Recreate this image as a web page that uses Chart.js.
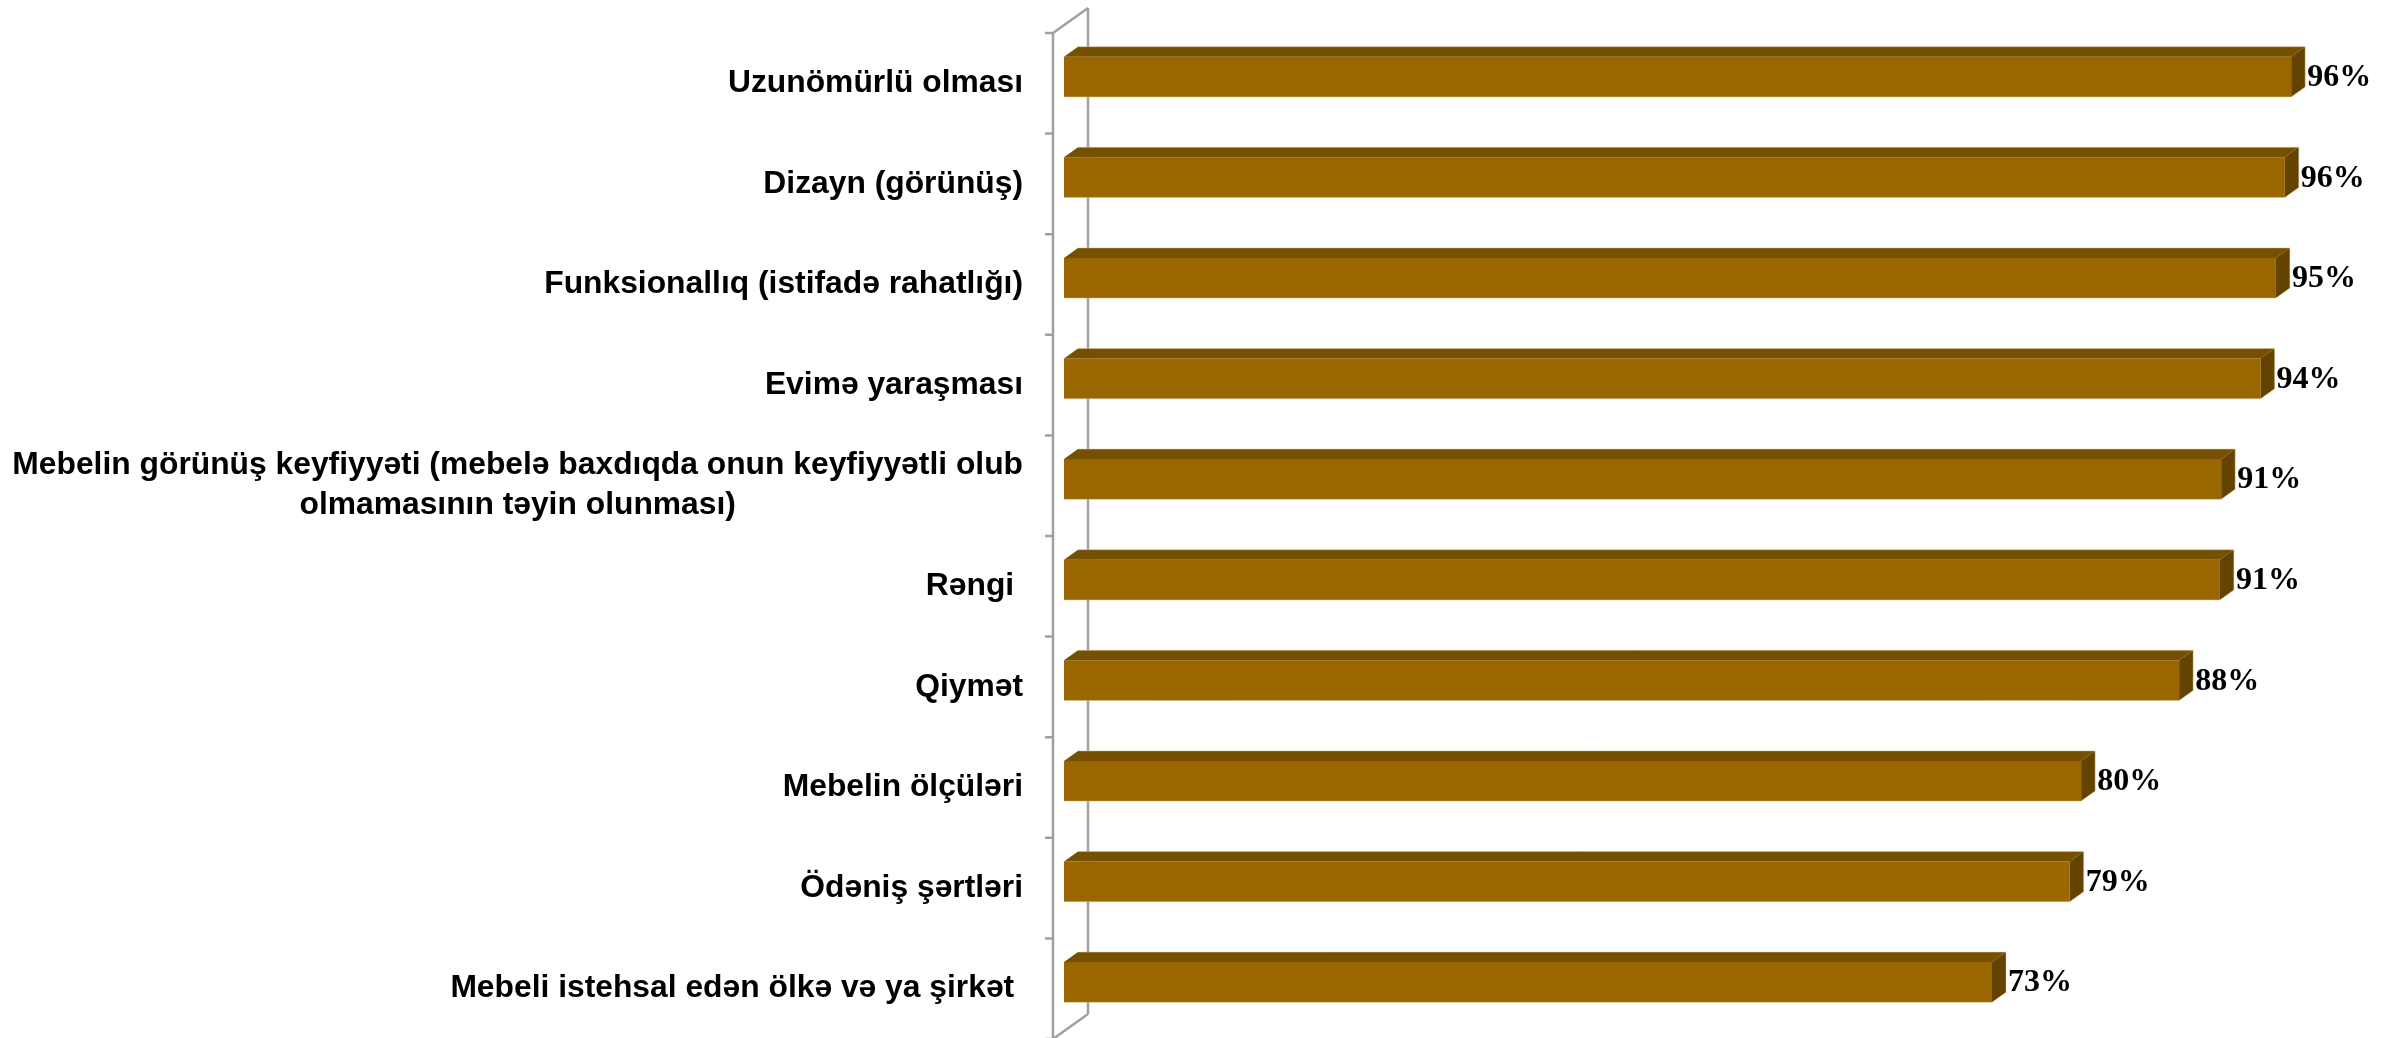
<!DOCTYPE html>
<html>
<head>
<meta charset="utf-8">
<script src="https://cdn.jsdelivr.net/npm/chart.js@4.4.0/dist/chart.umd.min.js"></script>
<style>
  html, body { margin: 0; padding: 0; background: #fff; overflow: hidden; }
  canvas { display: block; }
</style>
</head>
<body>
<canvas id="chart" width="2395" height="1038"></canvas>
<script>
// data
const categories = [
  'Uzunömürlü olması',
  'Dizayn (görünüş)',
  'Funksionallıq (istifadə rahatlığı)',
  'Evimə yaraşması',
  ['Mebelin görünüş keyfiyyəti (mebelə baxdıqda onun keyfiyyətli olub', 'olmamasının təyin olunması)'],
  'Rəngi ',
  'Qiymət',
  'Mebelin ölçüləri',
  'Ödəniş şərtləri',
  'Mebeli istehsal edən ölkə və ya şirkət '
];
const values = [96.4, 95.9, 95.2, 94.0, 90.9, 90.8, 87.6, 79.9, 79.0, 72.9];
const valueLabels = ['96%', '96%', '95%', '94%', '91%', '91%', '88%', '80%', '79%', '73%'];
const axisMin = 0;
const axisMax = 100;

// colours
const frontColor = '#996600';
const topColor = '#745000';
const sideColor = '#644300';
const edgeColor = 'rgba(220, 196, 150, 0.5)';
const wallColor = '#a0a0a0';

// 3d depth of the bars and the wall
const BAR_DX = 14, BAR_DY = -10;
const WALL_DX = 35, WALL_DY = -25;
const WALL_GAP = 11;   // wall front line sits left of value 0
const WALL_SHIFT = 6.5; // wall front is lower than the bar front plane

const bar3d = {
  id: 'bar3d',
  beforeDatasetsDraw(chart) {
    const ctx = chart.ctx;
    const area = chart.chartArea;
    const yScale = chart.scales.y;
    const step = yScale.getPixelForValue(1) - yScale.getPixelForValue(0);
    const fx = area.left - WALL_GAP;
    const top = area.top + WALL_SHIFT;
    const bottom = area.bottom + WALL_SHIFT;

    ctx.save();
    ctx.strokeStyle = wallColor;
    ctx.lineWidth = 2.5;
    ctx.beginPath();
    // front edge
    ctx.moveTo(fx, top);
    ctx.lineTo(fx, chart.height + 2);
    // top and bottom diagonals
    ctx.moveTo(fx, top);
    ctx.lineTo(fx + WALL_DX, top + WALL_DY);
    ctx.moveTo(fx, bottom);
    ctx.lineTo(fx + WALL_DX, bottom + WALL_DY);
    // back edge
    ctx.moveTo(fx + WALL_DX, top + WALL_DY);
    ctx.lineTo(fx + WALL_DX, bottom + WALL_DY);
    // ticks between categories
    for (let k = 0; k <= categories.length; k++) {
      const ty = top + k * step;
      ctx.moveTo(fx - 8, ty);
      ctx.lineTo(fx, ty);
    }
    ctx.stroke();
    ctx.restore();
  },
  afterDatasetsDraw(chart) {
    const ctx = chart.ctx;
    const meta = chart.getDatasetMeta(0);
    ctx.save();
    meta.data.forEach((bar, i) => {
      const p = bar.getProps(['x', 'y', 'base', 'height'], true);
      const x0 = p.base, x1 = p.x;
      const yt = p.y - p.height / 2, yb = p.y + p.height / 2;

      // top face
      ctx.fillStyle = topColor;
      ctx.beginPath();
      ctx.moveTo(x0, yt);
      ctx.lineTo(x0 + BAR_DX, yt + BAR_DY);
      ctx.lineTo(x1 + BAR_DX, yt + BAR_DY);
      ctx.lineTo(x1, yt);
      ctx.closePath();
      ctx.fill();

      // side face
      ctx.fillStyle = sideColor;
      ctx.beginPath();
      ctx.moveTo(x1, yt);
      ctx.lineTo(x1 + BAR_DX, yt + BAR_DY);
      ctx.lineTo(x1 + BAR_DX, yb + BAR_DY);
      ctx.lineTo(x1, yb);
      ctx.closePath();
      ctx.fill();

      // thin light outer edges
      ctx.strokeStyle = edgeColor;
      ctx.lineWidth = 1;
      ctx.beginPath();
      ctx.moveTo(x0 + BAR_DX, yt + BAR_DY);
      ctx.lineTo(x1 + BAR_DX, yt + BAR_DY);
      ctx.lineTo(x1 + BAR_DX, yb + BAR_DY);
      ctx.lineTo(x1, yb);
      ctx.lineTo(x0, yb);
      ctx.stroke();

      // value label
      ctx.fillStyle = '#000';
      ctx.font = 'bold 32px "Liberation Serif", "Times New Roman", serif';
      ctx.textAlign = 'left';
      ctx.textBaseline = 'middle';
      ctx.fillText(valueLabels[i], x1 + BAR_DX + 2, p.y + 1);
    });
    ctx.restore();
  },
  afterDraw(chart) {
    // category labels, right aligned, extra lines centred under the first
    const ctx = chart.ctx;
    const area = chart.chartArea;
    const yScale = chart.scales.y;
    const right = area.left - WALL_GAP - 30;
    const lineH = 40;
    ctx.save();
    ctx.fillStyle = '#000';
    ctx.font = 'bold 31.8px "Liberation Sans", Arial, sans-serif';
    ctx.textBaseline = 'middle';
    ctx.textAlign = 'center';
    categories.forEach((label, i) => {
      const lines = Array.isArray(label) ? label : [label];
      const w = Math.max(...lines.map(l => ctx.measureText(l).width));
      const cx = right - w / 2;
      const cy = yScale.getPixelForValue(i) + WALL_SHIFT;
      lines.forEach((line, j) => {
        const ly = cy + (j - (lines.length - 1) / 2) * lineH;
        ctx.fillText(line, cx, ly);
      });
    });
    ctx.restore();
  }
};

new Chart(document.getElementById('chart'), {
  type: 'bar',
  data: {
    labels: categories,
    datasets: [{
      data: values,
      backgroundColor: frontColor,
      borderWidth: 0,
      barPercentage: 0.4,
      categoryPercentage: 1
    }]
  },
  options: {
    indexAxis: 'y',
    responsive: false,
    devicePixelRatio: 1,
    animation: false,
    layout: {
      padding: { left: 1064, right: 58, top: 26.5, bottom: 5.5 }
    },
    plugins: {
      legend: { display: false },
      tooltip: { enabled: false }
    },
    scales: {
      x: { display: false, min: axisMin, max: axisMax },
      y: { display: false }
    }
  },
  plugins: [bar3d]
});
</script>
</body>
</html>
